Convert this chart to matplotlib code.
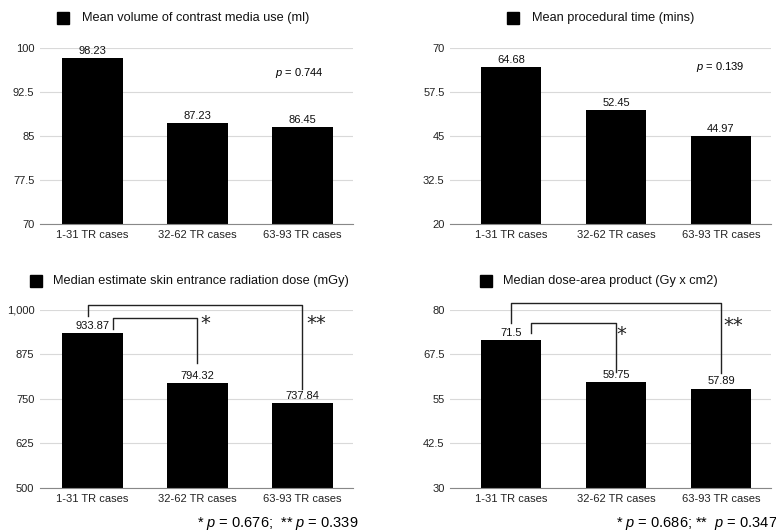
import numpy as np
import matplotlib.pyplot as plt

plt.rcParams['font.family'] = ['Liberation Sans', 'DejaVu Sans']
plt.rcParams['mathtext.fontset'] = 'custom'
plt.rcParams['mathtext.rm'] = 'Liberation Sans'
plt.rcParams['mathtext.it'] = 'Liberation Sans:italic'

# Datos
categorias = ["1-31 TR cases", "32-62 TR cases", "63-93 TR cases"]

contraste = [98.23, 87.23, 86.45]
tiempo = [64.68, 52.45, 44.97]
dosis_piel = [933.87, 794.32, 737.84]
dap = [71.5, 59.75, 57.89]

titulos = ["Mean volume of contrast media use (ml)",
           "Mean procedural time (mins)",
           "Median estimate skin entrance radiation dose (mGy)",
           "Median dose-area product (Gy x cm2)"]
etiquetas_valor = [["98.23", "87.23", "86.45"],
                   ["64.68", "52.45", "44.97"],
                   ["933.87", "794.32", "737.84"],
                   ["71.5", "59.75", "57.89"]]
ticks_y = [[70, 77.5, 85, 92.5, 100],
           [20, 32.5, 45, 57.5, 70],
           [500, 625, 750, 875, 1000],
           [30, 42.5, 55, 67.5, 80]]
ticks_txt = [["70", "77.5", "85", "92.5", "100"],
             ["20", "32.5", "45", "57.5", "70"],
             ["500", "625", "750", "875", "1,000"],
             ["30", "42.5", "55", "67.5", "80"]]

fig = plt.figure(figsize=(7.76, 5.32), dpi=100)

posiciones = [[0.0515, 0.579, 0.403, 0.331],
              [0.580, 0.579, 0.414, 0.331],
              [0.0515, 0.0827, 0.403, 0.335],
              [0.580, 0.0827, 0.414, 0.335]]
xlims = [(-0.5, 2.48), (-0.58, 2.48), (-0.5, 2.48), (-0.58, 2.48)]
leyenda_x = [(57, 82), (507, 532), (30, 53), (480, 503)]
leyenda_y = [18, 18, 281, 281]

series = [contraste, tiempo, dosis_piel, dap]
ejes = []
for i in range(4):
    ax = fig.add_axes(posiciones[i])
    x = np.arange(3)
    ax.bar(x, series[i], width=0.58, color='black', zorder=3)
    ax.set_ylim(ticks_y[i][0], ticks_y[i][-1])
    ax.set_xlim(*xlims[i])
    ax.set_yticks(ticks_y[i])
    ax.set_yticklabels(ticks_txt[i], fontsize=8, color='#222222')
    ax.set_xticks(x)
    ax.set_xticklabels(categorias, fontsize=8, color='#222222')
    ax.tick_params(length=0, pad=4)
    ax.grid(axis='y', color='#d9d9d9', linewidth=0.8, zorder=0)
    for s in ['top', 'right', 'left']:
        ax.spines[s].set_visible(False)
    ax.spines['bottom'].set_color('#888888')
    ax.spines['bottom'].set_zorder(4)
    rango = ticks_y[i][-1] - ticks_y[i][0]
    for xi, v, t in zip(x, series[i], etiquetas_valor[i]):
        ax.text(xi, v + rango * 0.012, t, ha='center', va='bottom', fontsize=8, color='#111111', zorder=5)
    # leyenda
    fig.patches.append(plt.Rectangle((leyenda_x[i][0] / 776, 1 - (leyenda_y[i] + 6) / 532), 12 / 776, 12 / 532,
                                     transform=fig.transFigure, color='black'))
    fig.text(leyenda_x[i][1] / 776, 1 - leyenda_y[i] / 532, titulos[i], fontsize=9.2, va='center', color='#111111')
    ejes.append(ax)

# p valores
ejes[0].text(0.83, 0.86, r"$p$ = 0.744", transform=ejes[0].transAxes, ha='center', va='center', fontsize=8)
ejes[1].text(0.84, 0.89, r"$p$ = 0.139", transform=ejes[1].transAxes, ha='center', va='center', fontsize=8)

# corchetes de significancia
def corchete(ax, x1, x2, y_top, y1, y2):
    ax.plot([x1, x1, x2, x2], [y1, y_top, y_top, y2], color='#222222', linewidth=1.0,
            clip_on=False, zorder=6)

ast = dict(fontsize=14, ha='left', va='center', family='DejaVu Sans', color='#222222')

corchete(ejes[2], -0.04, 2.0, 1014, 983, 778)
corchete(ejes[2], 0.2, 1.0, 977, 946, 851)
ejes[2].text(1.03, 962, "*", **ast)
ejes[2].text(2.04, 962, "**", **ast)

corchete(ejes[3], 0.0, 2.0, 82.0, 76.3, 62.3)
corchete(ejes[3], 0.19, 1.0, 76.3, 73.5, 62.6)
ejes[3].text(1.0, 73.2, "*", **ast)
ejes[3].text(2.02, 75.5, "**", **ast)

fig.text(197 / 776, 1 - 523 / 532, r"* $p$ = 0.676;  ** $p$ = 0.339", fontsize=10.5, va='center')
fig.text(616 / 776, 1 - 524 / 532, r"* $p$ = 0.686; **  $p$ = 0.347", fontsize=10.5, va='center')

plt.savefig("out.png", dpi=100)
